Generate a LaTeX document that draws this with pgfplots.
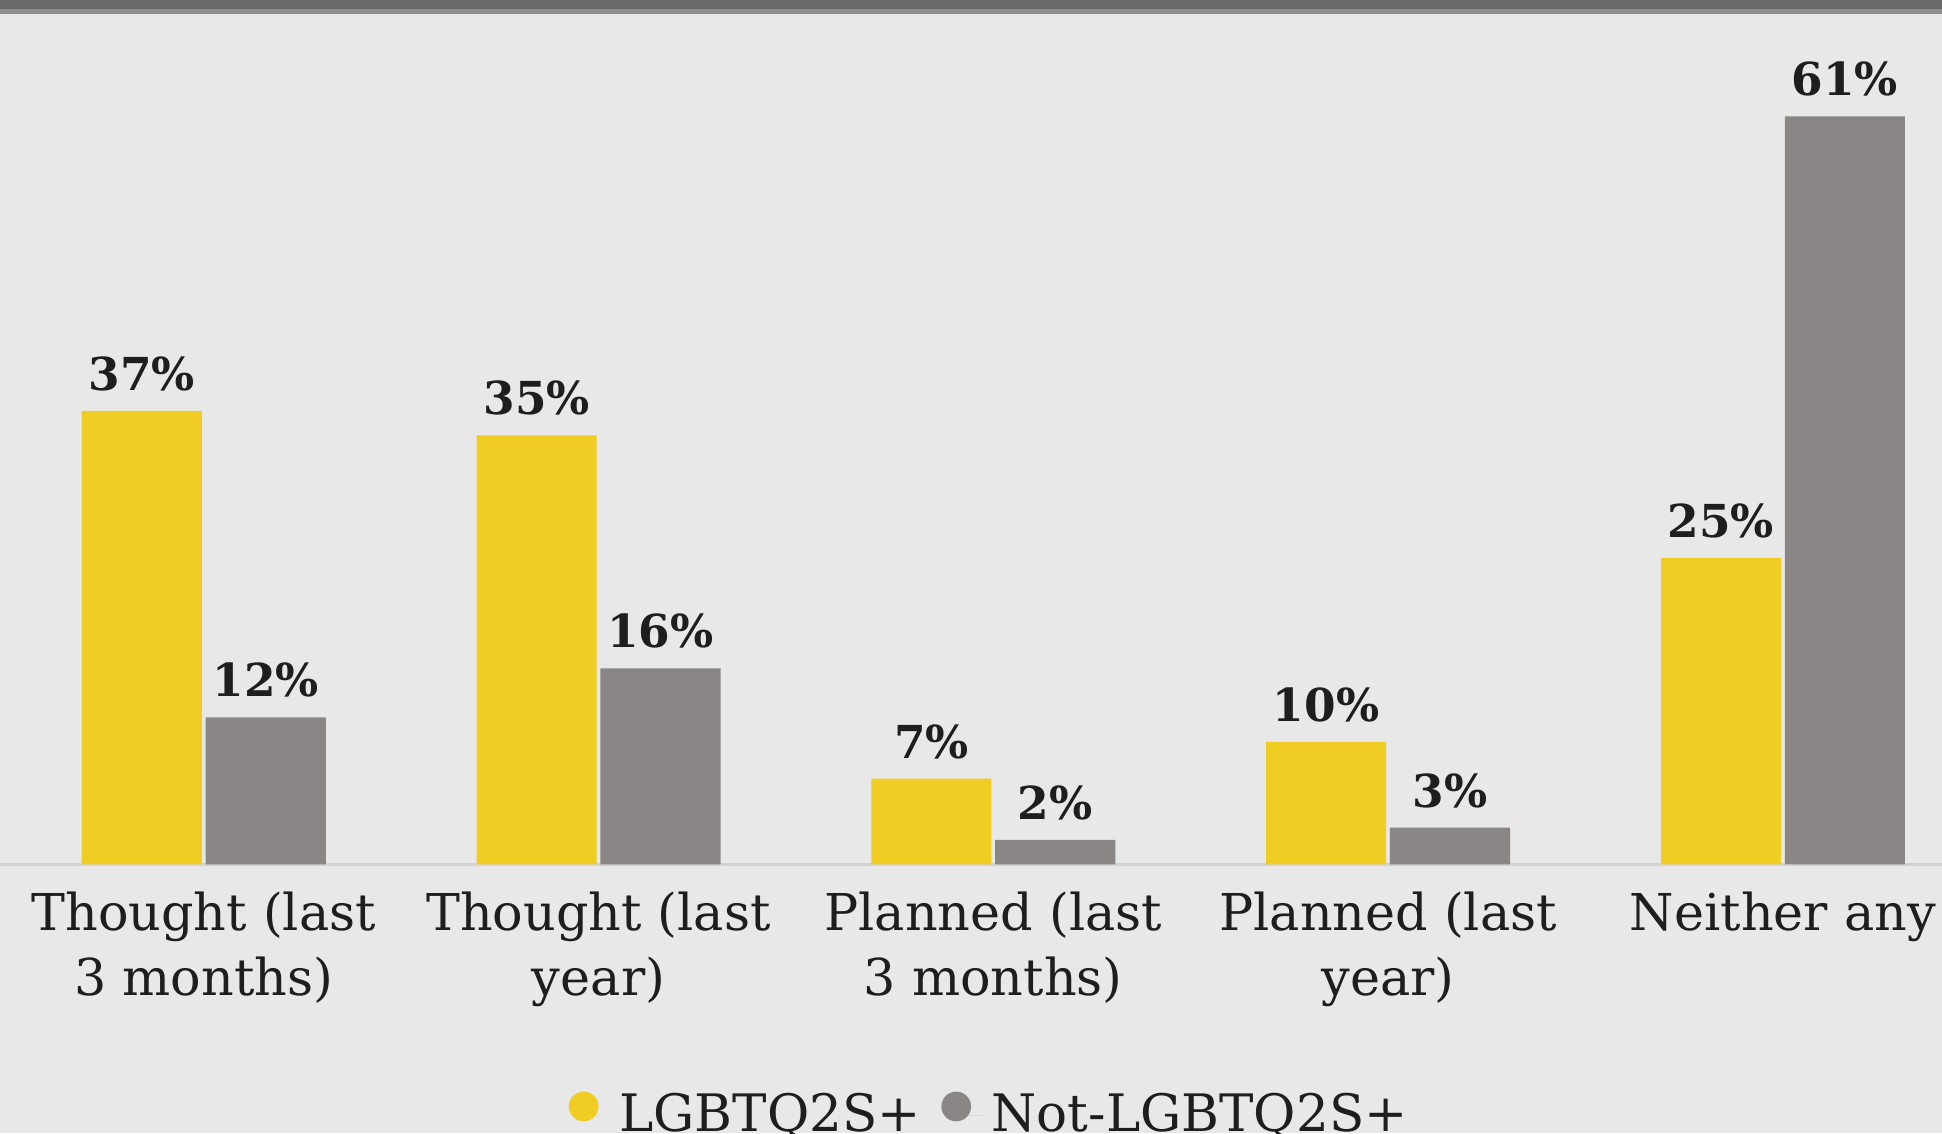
\documentclass[border=0pt]{standalone}
\usepackage{pgfplots}
\pgfplotsset{compat=1.18}
\usepackage{fontspec}
\setmainfont{DejaVu Serif}
\definecolor{bg}{HTML}{E8E8E8}
\definecolor{ylw}{HTML}{F0CD22}
\definecolor{gry}{HTML}{8A8685}
\definecolor{bandA}{HTML}{686B6A}
\definecolor{bandB}{HTML}{8C918E}
\definecolor{baseln}{HTML}{D2D2D2}
\definecolor{txt}{HTML}{1E1E1E}
\begin{document}
\begin{tikzpicture}
\path[use as bounding box] (0,0) rectangle (470.4pt,274.5pt);
\clip (0,0) rectangle (470.4pt,274.5pt);
\fill[bg] (0,0) rectangle (470.4pt,274.5pt);
\fill[bandA] (0,272.4pt) rectangle (470.4pt,274.5pt);
\fill[bandB] (0,271.2pt) rectangle (470.4pt,272.4pt);
\begin{axis}[
  at={(0pt,65.1pt)}, anchor=south west,
  scale only axis, width=470.4pt, height=209.4pt,
  xmin=-0.5161, xmax=4.4031, ymin=0, ymax=70.5,
  axis line style={draw=none},
  ytick=\empty,
  xtick={0,1,2,3,4},
  xticklabels={{Thought (last\\3 months)},{Thought (last\\year)},{Planned (last\\3 months)},{Planned (last\\year)},{Neither any}},
  major tick length=0pt,
  xticklabel style={align=center, font=\fontsize{12.3}{15.9}\selectfont, text=txt, yshift=-3pt},
  ybar, bar width=0.3043,
  /pgf/number format/assume math mode=true,
  nodes near coords={\pgfmathprintnumber{\pgfplotspointmeta}\%},
  nodes near coords style={font=\bfseries\fontsize{11}{13}\selectfont, text=txt, inner sep=0pt, yshift=4.6pt},
  legend columns=2,
  legend style={at={(0.511,-0.245)}, anchor=north, draw=none, fill=none, font=\fontsize{12.5}{15}\selectfont, text=txt, /tikz/every even column/.append style={column sep=3pt}},
  legend image code/.code={\fill[#1] (0.13cm,0.08cm) circle (3.6pt); \path (0.13cm,0) -- ++(6.6pt,0);},
  clip=false,
]
\draw[baseln, line width=0.9pt] (axis cs:-0.6,0) -- (axis cs:4.5,0);
\addplot[fill=ylw, draw=none, bar shift=-0.1569] coordinates {(0,37) (1,35) (2,7) (3,10) (4,25)};
\addplot[fill=gry, draw=none, bar shift=0.1569] coordinates {(0,12) (1,16) (2,2) (3,3) (4,61)};
\legend{LGBTQ2S+, Not-LGBTQ2S+}
\end{axis}
\end{tikzpicture}
\end{document}
